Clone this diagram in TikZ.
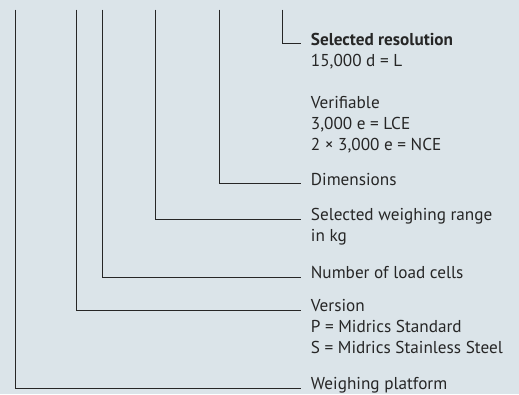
\documentclass[tikz,border=0pt]{standalone}
\usepackage{fontspec}
\setmainfont{PT Sans}
\usepackage{xcolor}
\definecolor{panelbg}{RGB}{219,228,233}
\definecolor{ink}{RGB}{38,38,38}
\usetikzlibrary{positioning,calc}
% lines of a label, baseline on the first line
\newcommand{\leadtext}[1]{\begin{tabular}[t]{@{}l@{}}#1\end{tabular}}

\begin{document}
\begin{tikzpicture}[x=1pt,y=-1pt,
    lead/.style={draw=ink,line width=1pt},
    lbl/.style={anchor=base west,inner xsep=10pt,inner ysep=0pt,
        text=ink,font=\fontsize{17.2}{21}\selectfont}]
    % Panel
    \fill[panelbg] (0,0) rectangle (519,394);
    \useasboundingbox (0,0) rectangle (519,394);

    % Tops of the leads
    \coordinate (platTop) at (15.3,9.5);
    \coordinate (verTop) at (76,9.5);
    \coordinate (cellTop) at (102.3,9.5);
    \coordinate (rangeTop) at (155.3,9.5);
    \coordinate (dimTop) at (219.3,9.5);
    \coordinate (resTop) at (282.7,9.5);

    % Labels
    \node[lbl] (res) at (300.7,45) {\leadtext{\textbf{Selected resolution}\\15,000 d = L\\ \\Verifiable\\3,000 e = LCE\\2 × 3,000 e = NCE}};
    \node[lbl] (dim) at (300.7,185) {Dimensions};
    \node[lbl] (range) at (300.7,220.7) {\leadtext{Selected weighing range\\in kg}};
    \node[lbl] (cell) at (300.7,278.7) {Number of load cells};
    \node[lbl] (ver) at (300.7,311.7) {\leadtext{Version\\P = Midrics Standard\\S = Midrics Stainless Steel}};
    \node[lbl] (plat) at (300.7,389.8) {Weighing platform};

    % Leads
    \draw[lead] (resTop) |- ([yshift=1.7pt]res.base west);
    \draw[lead] (dimTop) |- ([yshift=1.7pt]dim.base west);
    \draw[lead] (rangeTop) |- ([yshift=1.7pt]range.base west);
    \draw[lead] (cellTop) |- ([yshift=1.7pt]cell.base west);
    \draw[lead] (verTop) |- ([yshift=1.7pt]ver.base west);
    \draw[lead] (platTop) |- ([yshift=1.7pt]plat.base west);
\end{tikzpicture}
\end{document}
